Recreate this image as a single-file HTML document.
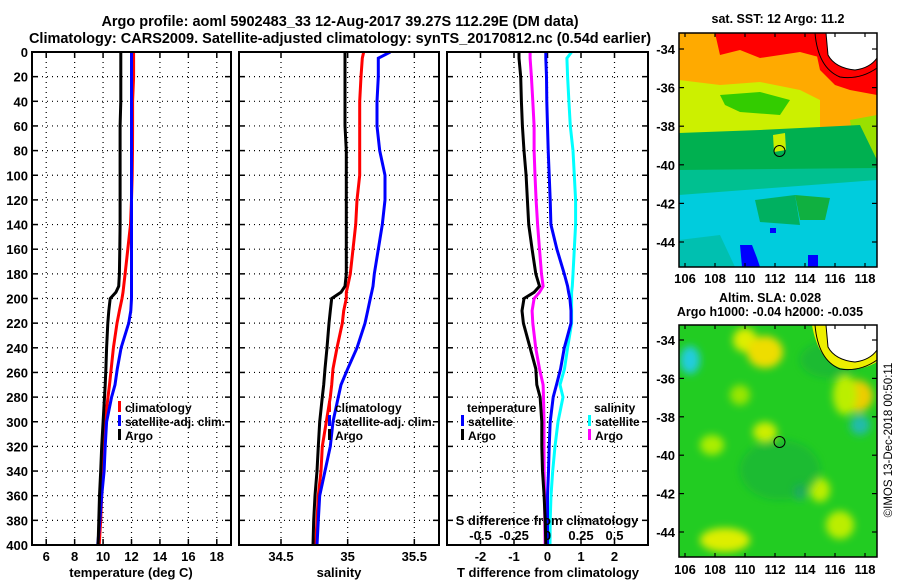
<!DOCTYPE html>
<html><head><meta charset="utf-8"><style>
body{margin:0;background:#fff;}
svg{display:block;font-family:"Liberation Sans",Arial,sans-serif;font-weight:bold;}
text{fill:#000;}
</style></head><body>
<svg id="fig" width="900" height="580" viewBox="0 0 900 580">
<text x="340" y="26" font-size="14.5" text-anchor="middle">Argo profile: aoml 5902483_33 12-Aug-2017 39.27S 112.29E (DM data)</text>
<text x="340" y="43" font-size="14.5" text-anchor="middle">Climatology: CARS2009. Satellite-adjusted climatology: synTS_20170812.nc (0.54d earlier)</text>
<g id="plots"></g>

<!-- SST map -->
<g>
<text x="778" y="23" font-size="12.5" text-anchor="middle">sat. SST: 12 Argo: 11.2</text>
<rect x="679" y="33" width="198" height="234" fill="#00ccdd"/>
<path d="M679 33H877V155H679Z" fill="#ffaa00"/>
<path d="M715 33H830V60L800 52L760 58L740 50L720 55Z" fill="#ff0000"/>
<path d="M812 33H877V95L850 90L835 85L820 70Z" fill="#ff0000"/>
<path d="M679 80L720 85L760 82L800 90L820 100L820 128L679 135Z" fill="#ccf000"/>
<path d="M720 95L760 92L790 100L780 115L740 112L725 105Z" fill="#33cc00"/>
<path d="M850 120L877 115V160L855 158Z" fill="#99e000"/>
<path d="M679 133L760 130L800 128L860 125L877 160V175L679 178Z" fill="#00b050"/>
<path d="M773 135L785 133L786 150L774 152Z" fill="#ccee00"/>
<path d="M679 170L877 168V180L679 195Z" fill="#00c090"/>
<path d="M755 200L795 195L800 225L760 222Z" fill="#00b060"/>
<path d="M795 195L830 198L825 220L800 220Z" fill="#10b040"/>
<path d="M679 240L720 235L735 267H679Z" fill="#00c0b0"/>
<path d="M740 245L752 245L757 258L760 267H742Z" fill="#0000ff"/>
<rect x="808" y="255" width="10" height="12" fill="#0000ff"/>
<rect x="770" y="228" width="6" height="5" fill="#0000ff"/>
<path d="M826 33H877V58Q870 68 855 70Q835 68 828 55Z" fill="#fff" stroke="#000" stroke-width="1"/>
<path d="M815 33Q818 68 840 77Q860 80 877 68" fill="none" stroke="#000" stroke-width="1"/>
<circle cx="779.5" cy="151" r="5.5" fill="none" stroke="#000" stroke-width="1"/>
<rect x="679" y="33" width="198" height="234" fill="none" stroke="#000" stroke-width="1.5"/>
</g>
<!-- SLA map -->
<g>
<text x="770" y="302" font-size="12.5" text-anchor="middle">Altim. SLA: 0.028</text>
<text x="770" y="316" font-size="12.5" text-anchor="middle">Argo h1000: -0.04 h2000: -0.035</text>
<defs>
<filter id="bl" x="-50%" y="-50%" width="200%" height="200%"><feGaussianBlur stdDeviation="4"/></filter>
<clipPath id="c2"><rect x="679" y="325" width="198" height="232"/></clipPath>
</defs>
<rect x="679" y="325" width="198" height="232" fill="#22cc22"/>
<g clip-path="url(#c2)" filter="url(#bl)">
<ellipse cx="690" cy="360" rx="10" ry="14" fill="#22ccdd"/>
<ellipse cx="745" cy="340" rx="12" ry="12" fill="#ddee00"/>
<ellipse cx="765" cy="352" rx="18" ry="16" fill="#eedd00"/>
<ellipse cx="857" cy="396" rx="16" ry="16" fill="#eecc00"/>
<ellipse cx="860" cy="425" rx="10" ry="10" fill="#22bbaa"/>
<ellipse cx="765" cy="432" rx="12" ry="10" fill="#ccee00"/>
<ellipse cx="712" cy="445" rx="12" ry="10" fill="#aaee00"/>
<ellipse cx="740" cy="395" rx="10" ry="10" fill="#99e600"/>
<ellipse cx="820" cy="490" rx="10" ry="12" fill="#bbee00"/>
<ellipse cx="800" cy="492" rx="6" ry="8" fill="#22aa77"/>
<ellipse cx="725" cy="540" rx="25" ry="12" fill="#ddee00"/>
<ellipse cx="840" cy="525" rx="14" ry="14" fill="#bbee00"/>
<ellipse cx="780" cy="470" rx="40" ry="30" fill="#11aa44" opacity="0.5"/>
<ellipse cx="830" cy="360" rx="30" ry="18" fill="#11aa44" opacity="0.5"/>
<ellipse cx="845" cy="395" rx="12" ry="20" fill="#bbee00"/>
</g>
<path d="M812 325H877V362Q860 372 840 368Q818 360 812 325Z" fill="#eeee00"/>
<path d="M826 325H877V350Q870 360 855 362Q835 360 828 347Z" fill="#fff" stroke="#000" stroke-width="1"/>
<path d="M815 325Q818 360 840 369Q860 372 877 360" fill="none" stroke="#000" stroke-width="1"/>
<circle cx="779.5" cy="442" r="5.5" fill="none" stroke="#000" stroke-width="1"/>
<rect x="679" y="325" width="198" height="232" fill="none" stroke="#000" stroke-width="1.5"/>
</g>
<g id="mapaxes"></g>
<text transform="translate(892,440) rotate(-90)" font-size="11.5" font-weight="normal" text-anchor="middle">©IMOS 13-Dec-2018 00:50:11</text>
</svg>
<script>
const depths = [0,5,20,40,60,80,100,120,140,160,180,190,195,200,210,220,240,257,270,280,300,320,340,360,380,400];
const argoT = [11.25,11.25,11.25,11.25,11.2,11.2,11.2,11.2,11.2,11.18,11.15,11.1,10.9,10.5,10.4,10.33,10.25,10.2,10.15,10.1,10.0,9.9,9.83,9.75,9.7,9.65];
const climT = [12.15,12.15,12.15,12.08,12.08,12.07,12.05,12.0,11.93,11.74,11.55,11.45,11.4,11.33,11.15,10.98,10.73,10.57,10.45,10.35,10.14,10.05,9.97,9.9,9.83,9.73];
const satT = [12.0,12.0,12.0,12.0,12.0,12.0,12.0,12.0,12.0,12.0,12.0,12.0,12.0,12.0,11.95,11.8,11.27,11.0,10.84,10.6,10.25,10.15,10.07,9.9,9.78,9.62];
const argoS = [34.98,34.98,34.98,34.98,34.98,34.99,34.99,34.99,34.99,34.99,34.99,34.98,34.95,34.88,34.87,34.86,34.845,34.83,34.82,34.81,34.79,34.78,34.77,34.755,34.745,34.74];
const climS = [35.12,35.11,35.1,35.09,35.09,35.09,35.09,35.07,35.06,35.04,35.02,35.0,34.99,34.99,34.97,34.96,34.92,34.89,34.88,34.87,34.84,34.81,34.8,34.78,34.77,34.76];
const satS = [35.32,35.23,35.23,35.22,35.22,35.24,35.28,35.28,35.26,35.23,35.2,35.19,35.18,35.17,35.15,35.13,35.07,35.0,34.95,34.93,34.89,34.87,34.83,34.79,34.78,34.77];
const dTargo = [-0.85,-0.85,-0.8,-0.78,-0.75,-0.7,-0.64,-0.6,-0.56,-0.46,-0.35,-0.24,-0.4,-0.7,-0.76,-0.72,-0.52,-0.35,-0.32,-0.22,-0.17,-0.17,-0.15,-0.1,-0.07,-0.05];
const dSargo = [-0.13,-0.13,-0.12,-0.11,-0.1,-0.1,-0.093,-0.085,-0.074,-0.06,-0.045,-0.033,-0.06,-0.1,-0.115,-0.11,-0.088,-0.06,-0.033,-0.03,-0.026,-0.026,-0.025,-0.022,-0.02,-0.018];
const dTsat = [-0.05,-0.05,-0.03,-0.02,0,0.02,0.05,0.08,0.1,0.28,0.5,0.6,0.63,0.67,0.7,0.7,0.5,0.39,0.27,0.17,0.08,0.05,0.03,0,0,0];
const dSsat = [0.18,0.145,0.15,0.16,0.17,0.19,0.2,0.21,0.21,0.2,0.19,0.185,0.18,0.18,0.18,0.18,0.15,0.127,0.093,0.116,0.078,0.056,0.039,0.026,0.02,0.019];
const depthTicks = [0,20,40,60,80,100,120,140,160,180,200,220,240,260,280,300,320,340,360,380,400];
const tTicks = [6,8,10,12,14,16,18];
const sTicks = [34.5,35,35.5];
const sTickLabels = ["34.5","35","35.5"];
const dtTicks = [-2,-1,0,1,2];
const dsTicks = [-0.5,-0.25,0,0.25,0.5];
const dsTickLabels = ["-0.5","-0.25","0","0.25","0.5"];
const latTicks = [-34,-36,-38,-40,-42,-44];
const lonTicks = [106,108,110,112,114,116,118];

const NS='http://www.w3.org/2000/svg';
const g=document.getElementById('plots');
function mk(t,a,p){const e=document.createElementNS(NS,t);for(const k in a)e.setAttribute(k,a[k]);(p||g).appendChild(e);return e;}
const yTop=52,yBot=545;
const yD=d=>yTop+(d-0)/400*(yBot-yTop);
function lin(d0,d1,r0,r1){return v=>r0+(v-d0)/(d1-d0)*(r1-r0);}
const xT=lin(5,19,32,231), xS=lin(34.185,35.685,239,439), xdT=lin(-3,3,447,648), xdS=lin(-0.75,0.75,447,648);

function panel(name){
  const pg=mk('g',{});
  
  
  return pg;
}
function grid(pg,x0,x1,xs){
  depthTicks.forEach(d=>{if(d>0&&d<400){const l=mk('line',{x1:x0,x2:x1,y1:yD(d),y2:yD(d),stroke:'#000','stroke-width':1.2,'stroke-dasharray':'1 4'},pg);}
   mk('line',{x1:x0,x2:x0+6,y1:yD(d),y2:yD(d),stroke:'#000','stroke-width':1.5},pg);
   mk('line',{x1:x1-6,x2:x1,y1:yD(d),y2:yD(d),stroke:'#000','stroke-width':1.5},pg);});
  xs.forEach(x=>{const l=mk('line',{x1:x,x2:x,y1:yTop,y2:yBot,stroke:'#000','stroke-width':1.2,'stroke-dasharray':'1 4'},pg);
   mk('line',{x1:x,x2:x,y1:yBot-6,y2:yBot,stroke:'#000','stroke-width':1.5},pg);mk('line',{x1:x,x2:x,y1:yTop,y2:yTop+6,stroke:'#000','stroke-width':1.5},pg);});
}
function frame(pg,x0,x1){const r=mk('rect',{x:x0,y:yTop,width:x1-x0,height:yBot-yTop,fill:'none',stroke:'#000','stroke-width':2},pg);}
function line(pg,vals,xf,col,name){
  const pts=vals.map((v,i)=>xf(v).toFixed(1)+','+yD(depths[i]).toFixed(1)).join(' ');
  const p=mk('polyline',{points:pts,fill:'none',stroke:col,'stroke-width':3},pg);
  
  
}
function txt(pg,x,y,s,opts,name){const t=mk('text',Object.assign({x:x,y:y,'font-size':13},opts||{}),pg);t.textContent=s;return t;}
function leg(pg,x,y,col,s,name){const b=mk('rect',{x:x,y:y-11,width:3,height:11,fill:col},pg);txt(pg,x+7,y,s,{'font-size':12},name+'-label');}

// panel 1
let p1=panel('temperature-panel');
grid(p1,32,231,tTicks.map(xT));
line(p1,climT,xT,'#ff0000','climatology-temperature-line');
line(p1,satT,xT,'#0000ff','satellite-temperature-line');
line(p1,argoT,xT,'#000000','argo-temperature-line');
frame(p1,32,231);
depthTicks.forEach(d=>txt(p1,28,yD(d)+5,String(d),{'text-anchor':'end'},'depth-tick-label'));
tTicks.forEach(t=>txt(p1,xT(t),561,String(t),{'text-anchor':'middle'},'temperature-tick-label'));
txt(p1,131,577,'temperature (deg C)',{'text-anchor':'middle'},'temperature-axis-title');
leg(p1,118,412,'#ff0000','climatology','legend-climatology');
leg(p1,118,426,'#0000ff','satellite-adj. clim.','legend-satellite-adj');
leg(p1,118,440,'#000000','Argo','legend-argo');

// panel 2
let p2=panel('salinity-panel');
grid(p2,239,439,sTicks.map(xS));
line(p2,climS,xS,'#ff0000','climatology-salinity-line');
line(p2,satS,xS,'#0000ff','satellite-salinity-line');
line(p2,argoS,xS,'#000000','argo-salinity-line');
frame(p2,239,439);
sTicks.forEach((s,i)=>txt(p2,xS(s),561,sTickLabels[i],{'text-anchor':'middle'},'salinity-tick-label'));
txt(p2,339,577,'salinity',{'text-anchor':'middle'},'salinity-axis-title');
leg(p2,328,412,'#ff0000','climatology','legend-climatology');
leg(p2,328,426,'#0000ff','satellite-adj. clim.','legend-satellite-adj');
leg(p2,328,440,'#000000','Argo','legend-argo');

// panel 3
let p3=panel('difference-panel');
grid(p3,447,648,dtTicks.map(xdT));
line(p3,dSsat,xdS,'#00ffff','salinity-satellite-diff-line');
line(p3,dTsat,xdT,'#0000ff','temperature-satellite-diff-line');
line(p3,dSargo,xdS,'#ff00ff','salinity-argo-diff-line');
line(p3,dTargo,xdT,'#000000','temperature-argo-diff-line');
frame(p3,447,648);
dtTicks.forEach(t=>txt(p3,xdT(t),561,String(t),{'text-anchor':'middle'},'t-diff-tick-label'));
txt(p3,548,577,'T difference from climatology',{'text-anchor':'middle'},'t-diff-axis-title');
dsTicks.forEach((s,i)=>txt(p3,xdS(s),540,dsTickLabels[i],{'text-anchor':'middle'},'s-diff-tick-label'));
txt(p3,547,525,'S difference from climatology',{'text-anchor':'middle'},'s-diff-axis-title');
txt(p3,467,412,'temperature',{'font-size':12},'legend-temperature-heading');
leg(p3,461,426,'#0000ff','satellite','legend-t-satellite');
leg(p3,461,440,'#000000','Argo','legend-t-argo');
txt(p3,594,412,'salinity',{'font-size':12},'legend-salinity-heading');
leg(p3,588,426,'#00ffff','satellite','legend-s-satellite');
leg(p3,588,440,'#ff00ff','Argo','legend-s-argo');

// map axes
const ma=document.getElementById('mapaxes');
function mapAxes(y0,y1,latY,labY,name){
  const lonX=lin(106,118,685,865);
  latTicks.forEach(l=>{const y=latY(l);
    mk('line',{x1:679,x2:684,y1:y,y2:y,stroke:'#000','stroke-width':1.2},ma);
    mk('line',{x1:872,x2:877,y1:y,y2:y,stroke:'#000','stroke-width':1.2},ma);
    txt(ma,675,y+5,String(l),{'text-anchor':'end'},name+'-lat-label');});
  lonTicks.forEach(l=>{const x=lonX(l);
    mk('line',{x1:x,x2:x,y1:y0,y2:y0+4,stroke:'#000','stroke-width':1.2},ma);
    mk('line',{x1:x,x2:x,y1:y1-4,y2:y1,stroke:'#000','stroke-width':1.2},ma);
    txt(ma,x,labY,String(l),{'text-anchor':'middle'},name+'-lon-label');});
}
mapAxes(33,267,lin(-34,-44,49,242),283,'sst-map');
mapAxes(325,557,lin(-34,-44,340,532),574,'sla-map');
</script>
</body></html>
